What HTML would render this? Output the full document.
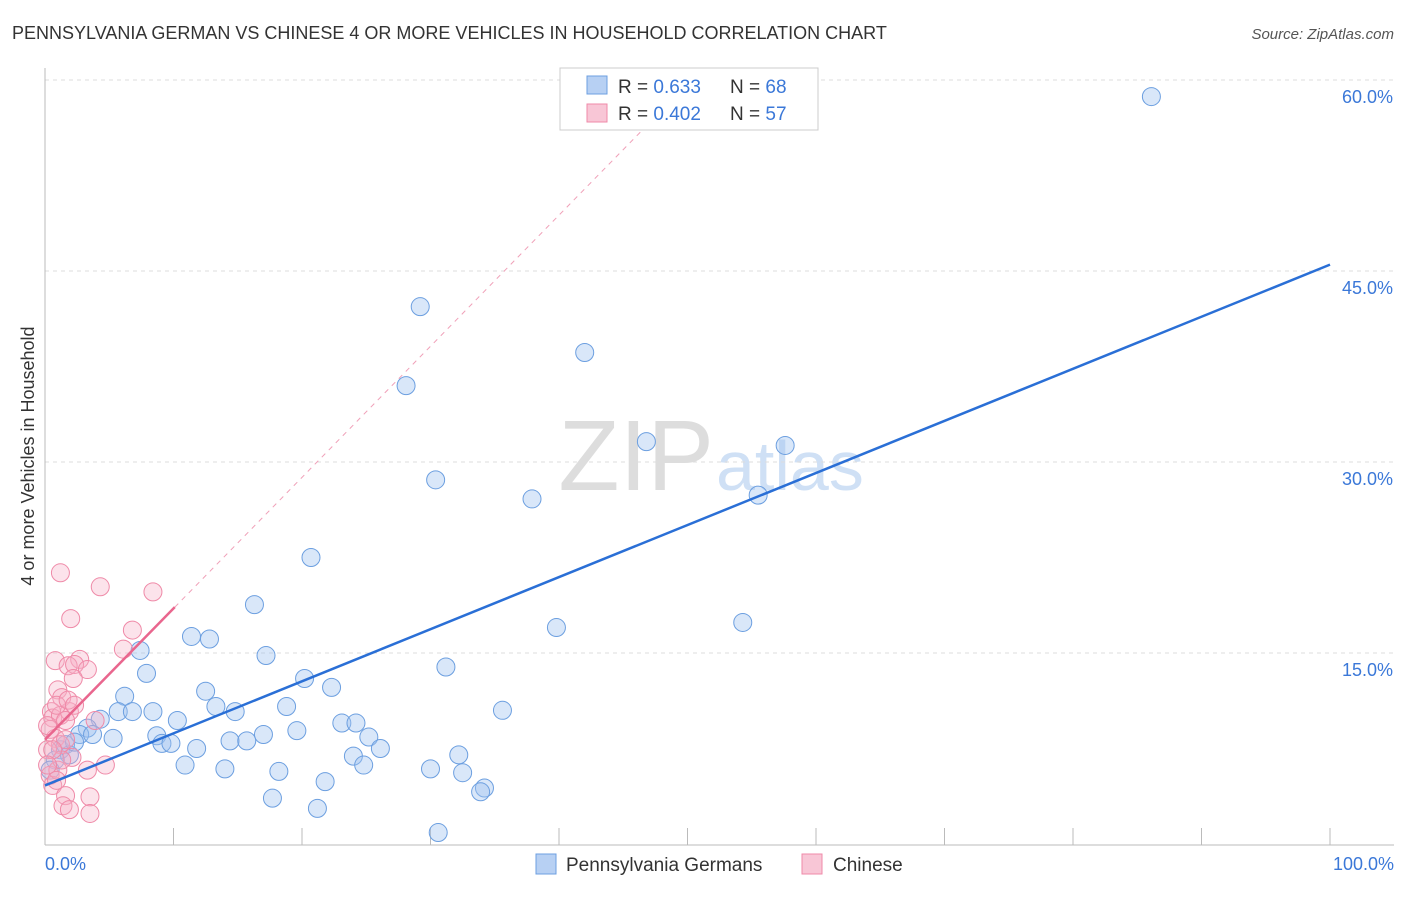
<!DOCTYPE html>
<html><head><meta charset="utf-8"><style>
body{margin:0;background:#fff;font-family:"Liberation Sans",sans-serif;}
svg text{font-family:"Liberation Sans",sans-serif;}
</style></head><body>
<svg width="1406" height="892" xmlns="http://www.w3.org/2000/svg">
<text x="12" y="39" font-size="18" fill="#333">PENNSYLVANIA GERMAN VS CHINESE 4 OR MORE VEHICLES IN HOUSEHOLD CORRELATION CHART</text>
<text x="1394" y="39" font-size="15" fill="#555" font-style="italic" text-anchor="end">Source: ZipAtlas.com</text>
<text x="714" y="490" font-size="100" fill="#ddd" font-family="Liberation Serif" text-anchor="end">ZIP</text>
<text x="716" y="490" font-size="70" fill="#cfe0f5">atlas</text>
<g id="grid"></g>
<line x1="45" y1="68" x2="45" y2="845" stroke="#bbb"/>
<line x1="45" y1="845" x2="1394" y2="845" stroke="#bbb"/>
<text transform="translate(34,456) rotate(-90)" font-size="18" fill="#333" text-anchor="middle">4 or more Vehicles in Household</text>
<text x="45" y="870" font-size="18" fill="#3b78d8">0.0%</text>
<text x="1394" y="870" font-size="18" fill="#3b78d8" text-anchor="end">100.0%</text>
<g id="marks"></g>
<rect x="560" y="68" width="258" height="62" fill="#fff" stroke="#ccc"/>
<rect x="587" y="76" width="20" height="18" fill="#b7d0f3" stroke="#6c9fe0"/>
<rect x="587" y="104" width="20" height="18" fill="#f8c6d6" stroke="#ef8aa8"/>
<text x="618" y="93" font-size="19" fill="#333">R = <tspan fill="#3b78d8">0.633</tspan></text>
<text x="730" y="93" font-size="19" fill="#333">N = <tspan fill="#3b78d8">68</tspan></text>
<text x="618" y="120" font-size="19" fill="#333">R = <tspan fill="#3b78d8">0.402</tspan></text>
<text x="730" y="120" font-size="19" fill="#333">N = <tspan fill="#3b78d8">57</tspan></text>
<rect x="536" y="854" width="20" height="20" fill="#b7d0f3" stroke="#6c9fe0"/>
<text x="566" y="871" font-size="19" fill="#333">Pennsylvania Germans</text>
<rect x="802" y="854" width="20" height="20" fill="#f8c6d6" stroke="#ef8aa8"/>
<text x="833" y="871" font-size="19" fill="#333">Chinese</text>
</svg>
<script>
const yTicks=[15,30,45,60];
const xTicks=[10,20,30,40,50,60,70,80,90,100];
const blueX=[86.1,29.2,42.0,28.1,46.8,57.6,30.4,37.9,55.5,20.7,16.3,39.8,54.3,11.4,12.8,7.4,17.2,7.9,31.2,20.2,22.3,12.5,6.2,13.3,18.8,35.6,5.7,6.8,8.4,14.8,4.3,10.3,23.1,24.2,3.3,17.0,2.7,3.7,5.3,8.7,19.6,25.2,14.4,15.7,9.1,9.8,11.8,26.1,24.0,32.2,10.9,24.8,14.0,18.2,30.0,32.5,21.8,34.2,33.9,17.7,21.2,30.6,1.2,1.6,1.9,0.8,0.4,2.3];
const blueY=[58.7,42.2,38.6,36.0,31.6,31.3,28.6,27.1,27.4,22.5,18.8,17.0,17.4,16.3,16.1,15.2,14.8,13.4,13.9,13.0,12.3,12.0,11.6,10.8,10.8,10.5,10.4,10.4,10.4,10.4,9.8,9.7,9.5,9.5,9.1,8.6,8.6,8.6,8.3,8.5,8.9,8.4,8.1,8.1,7.9,7.9,7.5,7.5,6.9,7.0,6.2,6.2,5.9,5.7,5.9,5.6,4.9,4.4,4.1,3.6,2.8,0.9,7.4,7.8,7.0,6.6,5.8,8.0];
const pinkX=[1.2,4.3,8.4,2.0,6.8,6.1,0.8,2.7,1.8,2.3,3.3,2.2,1.0,1.3,0.5,0.6,1.2,1.9,1.6,0.4,0.8,1.2,0.2,1.6,2.1,4.7,3.3,0.4,0.6,1.6,3.5,1.4,1.9,3.5,1.0,1.3,0.2,0.9,1.8,0.6,0.2,0.9,2.3,3.9];
const pinkY=[21.3,20.2,19.8,17.7,16.8,15.3,14.4,14.5,14.0,14.1,13.7,13.0,12.1,11.5,10.4,9.9,10.1,10.4,9.7,9.0,8.3,7.8,7.4,8.2,6.8,6.2,5.8,5.4,4.6,3.8,3.7,3.0,2.7,2.4,5.8,6.6,9.3,10.9,11.3,7.4,6.2,5.0,10.9,9.7];
const blueTrend=[4.6,45.5];
const pinkTrend=[8.2,18.6,10.1];
const X=v=>45+12.85*v, Y=v=>844-12.733*v;
const NS="http://www.w3.org/2000/svg";
function mk(t,a,p){const e=document.createElementNS(NS,t);for(const k in a)e.setAttribute(k,a[k]);p.appendChild(e);return e;}
const grid=document.getElementById('grid'), marks=document.getElementById('marks');
yTicks.forEach(t=>{
 const l=mk('line',{x1:45,x2:1394,y1:Y(t),y2:Y(t),stroke:'#ddd','stroke-dasharray':'4,4'},grid);
 
 
 const tx=mk('text',{x:1393,y:Y(t)+23,'font-size':18,fill:'#3b78d8','text-anchor':'end'},grid);
 tx.textContent=t.toFixed(1)+'%';
 
 
});
xTicks.forEach(t=>{
 const l=mk('line',{x1:X(t),x2:X(t),y1:828,y2:845,stroke:'#bbb'},grid);
 
 
});
blueX.forEach((v,i)=>{
 const c=mk('circle',{cx:X(v),cy:Y(blueY[i]),r:9,fill:'rgba(160,196,240,0.4)',stroke:'#6c9fe0','stroke-width':1},marks);
 
 
});
pinkX.forEach((v,i)=>{
 const c=mk('circle',{cx:X(v),cy:Y(pinkY[i]),r:9,fill:'rgba(245,175,198,0.35)',stroke:'#ef8aa8','stroke-width':1},marks);
 
 
});
const slope=(pinkTrend[1]-pinkTrend[0])/pinkTrend[2];
const xe=(59-pinkTrend[0])/slope;
const d=mk('line',{x1:X(pinkTrend[2]),y1:Y(pinkTrend[1]),x2:X(xe),y2:Y(59),stroke:'#f0a0b8','stroke-dasharray':'5,5','stroke-width':1},marks);


const p=mk('line',{x1:X(0),y1:Y(pinkTrend[0]),x2:X(pinkTrend[2]),y2:Y(pinkTrend[1]),stroke:'#e9668e','stroke-width':2.5},marks);


const b=mk('line',{x1:X(0),y1:Y(blueTrend[0]),x2:X(100),y2:Y(blueTrend[1]),stroke:'#2a6fd6','stroke-width':2.5},marks);


</script>
</body></html>
